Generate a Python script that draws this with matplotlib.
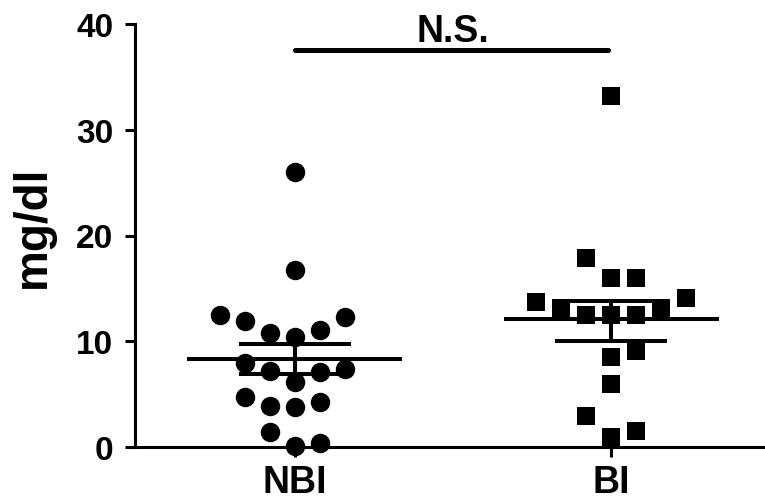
import matplotlib
matplotlib.use("Agg")
import matplotlib.pyplot as plt
import numpy as np

plt.rcParams['font.family'] = ['Liberation Sans', 'DejaVu Sans']
plt.rcParams['font.weight'] = 'bold'

categories = ["NBI", "BI"]

nbi_values = [26.0, 16.7, 12.5, 11.9, 12.3, 10.8, 10.4, 11.1, 7.9, 7.2, 7.1, 7.4,
              6.1, 4.7, 3.9, 3.75, 4.3, 1.4, 0.1, 0.35]
nbi_slots = [0, 0, -3, -2, 2, -1, 0, 1, -2, -1, 1, 2,
             0, -2, -1, 0, 1, -1, 0, 1]

bi_values = [33.2, 17.9, 16.0, 16.0, 13.7, 14.05, 13.1, 12.5, 12.5, 12.5, 13.1,
             9.1, 8.5, 5.95, 2.96, 1.54, 0.9]
bi_slots = [0, -1, 0, 1, -3, 3, -2, -1, 0, 1, 2,
            1, 0, 0, -1, 1, 0]

means = [8.35, 12.15]
err_low = [6.9, 10.05]
err_high = [9.7, 13.8]

sig_label = "N.S."
sig_level = 37.5
y_ticks = [0, 10, 20, 30, 40]
y_label = "mg/dl"

fig = plt.figure(figsize=(7.65, 5.02), dpi=100)
ax = fig.add_axes([135/765, 54/502, 1 - 135/765, (448-25)/502])

slot_w = 25/316
ms = 13
ax.plot([0 + s*slot_w for s in nbi_slots], nbi_values, 'o', color='black',
        markersize=ms, clip_on=False, zorder=3)
ax.plot([1 + s*slot_w for s in bi_slots], bi_values, 's', color='black',
        markersize=ms, markeredgewidth=0, clip_on=False, zorder=3)

lw = 2.9
for i, m in enumerate(means):
    ax.plot([i - 0.34, i + 0.34], [m, m], color='black', lw=lw, zorder=4,
            solid_capstyle='butt')
    ax.plot([i, i], [err_low[i], err_high[i]], color='black', lw=lw, zorder=4)
    for v in (err_low[i], err_high[i]):
        ax.plot([i - 0.178, i + 0.178], [v, v], color='black', lw=lw, zorder=4,
                solid_capstyle='butt')

ax.plot([0, 0.99], [sig_level, sig_level], color='black', lw=3.6,
        solid_capstyle='round', clip_on=False)
ax.text(0.5, 38.4, sig_label, ha='center', va='baseline',
        fontsize=27, fontweight='bold', clip_on=False)

ax.set_xlim(-0.506, 1.487)
ax.set_ylim(0, 40)
ax.set_xticks([0, 1])
ax.set_xticklabels(categories)
ax.set_yticks(y_ticks)
ax.set_ylabel(y_label, fontsize=33, fontweight='bold', va='center')
ax.yaxis.set_label_coords(-0.162, 0.522)
ax.tick_params(axis='both', direction='out', length=7.5, width=2.2, labelsize=24, pad=8)
ax.tick_params(axis='x', labelsize=27, pad=5)
for lab in ax.get_xticklabels() + ax.get_yticklabels():
    lab.set_fontweight('bold')

for s in ['top', 'right']:
    ax.spines[s].set_visible(False)
for s in ['left', 'bottom']:
    ax.spines[s].set_linewidth(2.2)

fig.savefig("out.png", dpi=100)
